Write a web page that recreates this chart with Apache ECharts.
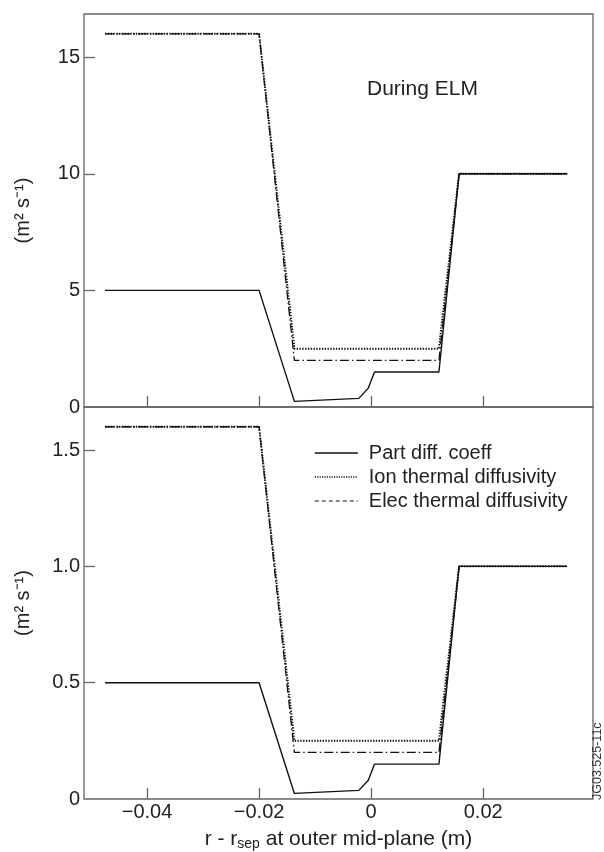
<!DOCTYPE html>
<html>
<head>
<meta charset="utf-8">
<script src="https://cdn.jsdelivr.net/npm/echarts@6/dist/echarts.min.js"></script>
<style>
  html, body { margin: 0; padding: 0; background: #fff; }
  #chart { width: 604px; height: 852px; }
</style>
</head>
<body>
<div id="chart"></div>
<script>
// Radial position relative to the separatrix (m)
const partX  = [-0.0475, -0.0200, -0.0137, -0.0022, -0.0005, 0.0006, 0.0121, 0.0157, 0.0350];
const thermX = [-0.0475, -0.0200, -0.0137, 0.0121, 0.0157, 0.0350];

// During ELM (m^2 s^-1)
const partDuring = [5, 5, 0.24, 0.37, 0.81, 1.5, 1.5, 10, 10];
const ionDuring  = [16, 16, 2.5, 2.5, 10, 10];
const elecDuring = [16, 16, 2.0, 2.0, 10, 10];

// Inter-ELM (m^2 s^-1)
const partBetween = [0.5, 0.5, 0.024, 0.037, 0.081, 0.15, 0.15, 1.0, 1.0];
const ionBetween  = [1.6, 1.6, 0.25, 0.25, 1.0, 1.0];
const elecBetween = [1.6, 1.6, 0.20, 0.20, 1.0, 1.0];

// Tick values
const xTicks      = [-0.04, -0.02, 0, 0.02];
const yTicksTop   = [0, 5, 10, 15];
const yTicksBot   = [0, 0.5, 1.0, 1.5];

const FONT = "'Liberation Sans', Arial, Helvetica, sans-serif";
const AXIS_COLOR = '#666';
const TEXT_COLOR = '#222';
const INK = '#111';

const names = ['Part diff. coeff', 'Ion thermal diffusivity', 'Elec thermal diffusivity'];

const zip = (xs, ys) => xs.map((x, i) => [x, ys[i]]);

const solidStyle = { color: INK, width: 1.4, type: 'solid' };
const dotStyle   = { color: INK, width: 2, type: [1.4, 1.4] };
const dashDot    = { color: INK, width: 1.3, type: [9, 3, 1.5, 3] };

function xAxisCfg(idx, withLabels) {
  return {
    gridIndex: idx,
    type: 'value',
    min: -0.05125,
    max: 0.0396,
    axisLine: { show: false, onZero: false },
    splitLine: { show: false },
    axisTick: {
      show: true, inside: true, length: 11, customValues: xTicks,
      lineStyle: { color: AXIS_COLOR, width: 1.3 }
    },
    axisLabel: withLabels ? {
      show: true, customValues: xTicks, margin: 3,
      fontSize: 20, color: TEXT_COLOR, fontFamily: FONT,
      formatter: v => (v === 0 ? '0' : String(+v.toFixed(2)).replace('-', '\u2212'))
    } : { show: false },
    name: withLabels ? '{a|r - r}{s|sep}{a| at outer mid-plane (m)}' : '',
    nameLocation: 'middle',
    nameGap: 28,
    nameTextStyle: {
      fontFamily: FONT, color: TEXT_COLOR,
      rich: {
        a: { fontSize: 21, fontFamily: FONT, color: TEXT_COLOR },
        s: { fontSize: 14, fontFamily: FONT, color: TEXT_COLOR, padding: [10, 0, 0, 0] }
      }
    }
  };
}

function yAxisCfg(idx, max, labelTicks, fmt) {
  return {
    gridIndex: idx,
    type: 'value',
    min: 0,
    max: max,
    axisLine: { show: false, onZero: false },
    splitLine: { show: false },
    axisTick: {
      show: true, inside: true, length: 11, customValues: labelTicks.slice(1),
      lineStyle: { color: AXIS_COLOR, width: 1.3 }
    },
    axisLabel: {
      show: true, customValues: labelTicks, margin: 4,
      fontSize: 20, color: TEXT_COLOR, fontFamily: FONT, formatter: fmt
    },
    name: '(m\u00B2 s\u207B\u00B9)',
    nameLocation: 'middle',
    nameRotate: 90,
    nameGap: 51,
    nameTextStyle: { fontSize: 20, color: TEXT_COLOR, fontFamily: FONT }
  };
}

function lineSeries(name, xs, ys, style, panel) {
  return {
    name: name,
    type: 'line',
    xAxisIndex: panel,
    yAxisIndex: panel,
    data: zip(xs, ys),
    symbol: 'none',
    lineStyle: style,
    itemStyle: { color: INK },
    emphasis: { disabled: true },
    z: 3
  };
}

const hiddenMarker = { color: 'transparent', borderColor: 'transparent', borderWidth: 0, opacity: 0 };

const chart = echarts.init(document.getElementById('chart'), null, { renderer: 'canvas' });

chart.setOption({
  animation: false,
  backgroundColor: '#fff',
  textStyle: { fontFamily: FONT },
  title: {
    text: 'During ELM',
    left: 362,
    top: 74,
    textStyle: { fontSize: 21, fontWeight: 'normal', color: TEXT_COLOR, fontFamily: FONT }
  },
  legend: {
    orient: 'vertical',
    left: 309,
    top: 438,
    itemWidth: 43,
    itemHeight: 14,
    itemGap: 4,
    selectedMode: false,
    itemStyle: hiddenMarker,
    textStyle: { fontSize: 20, color: TEXT_COLOR, fontFamily: FONT, padding: [0, 0, 0, 6] },
    data: [
      { name: names[0], itemStyle: hiddenMarker, lineStyle: { type: 'solid', width: 1.3, color: INK } },
      { name: names[1], itemStyle: hiddenMarker, lineStyle: { type: [1.2, 1.2], width: 1.6, color: INK } },
      { name: names[2], itemStyle: hiddenMarker, lineStyle: { type: [4, 3], width: 1.2, color: INK } }
    ]
  },
  grid: [
    { left: 84, top: 14, width: 509, height: 393, show: true, borderColor: AXIS_COLOR, borderWidth: 1.3, backgroundColor: 'transparent' },
    { left: 84, top: 407, width: 509, height: 393, show: true, borderColor: AXIS_COLOR, borderWidth: 1.3, backgroundColor: 'transparent' }
  ],
  xAxis: [xAxisCfg(0, false), xAxisCfg(1, true)],
  yAxis: [
    yAxisCfg(0, 16.85, yTicksTop, v => String(v)),
    yAxisCfg(1, 1.685, yTicksBot, v => (v === 0 ? '0' : v.toFixed(1)))
  ],
  series: [
    lineSeries(names[0], partX, partDuring, solidStyle, 0),
    lineSeries(names[1], thermX, ionDuring, dotStyle, 0),
    lineSeries(names[2], thermX, elecDuring, dashDot, 0),
    lineSeries(names[0], partX, partBetween, solidStyle, 1),
    lineSeries(names[1], thermX, ionBetween, dotStyle, 1),
    lineSeries(names[2], thermX, elecBetween, dashDot, 1)
  ],
  graphic: [
    {
      type: 'text',
      x: 598,
      y: 800,
      rotation: Math.PI / 2,
      style: {
        text: 'JG03.525-11c',
        fontSize: 12.5,
        fontFamily: FONT,
        fill: '#333',
        align: 'left',
        verticalAlign: 'middle'
      }
    }
  ]
});
</script>
</body>
</html>
